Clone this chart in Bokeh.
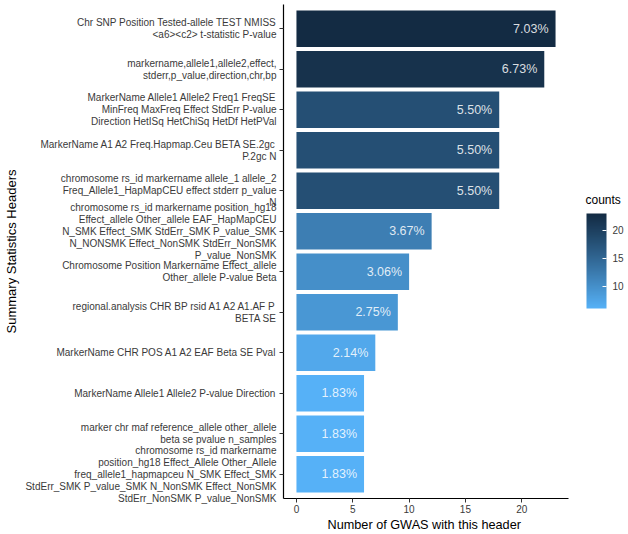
import numpy as np
from bokeh.plotting import figure
from bokeh.models import (FactorRange, Range1d, LinearColorMapper, ColorBar,
                          FixedTicker, ColumnDataSource, Label, Title)
from bokeh.transform import linear_cmap
from bokeh.core.properties import value
from bokeh.embed import file_html
from bokeh.resources import INLINE

# ---- data (top to bottom as in the chart) ----
headers = [
    "Chr SNP Position Tested-allele TEST NMISS\n<a6><c2> t-statistic P-value",
    "markername,allele1,allele2,effect,\nstderr,p_value,direction,chr,bp",
    "MarkerName Allele1 Allele2 Freq1 FreqSE\nMinFreq MaxFreq Effect StdErr P-value\nDirection HetISq HetChiSq HetDf HetPVal",
    "MarkerName A1 A2 Freq.Hapmap.Ceu BETA SE.2gc\nP.2gc N",
    "chromosome rs_id markername allele_1 allele_2\nFreq_Allele1_HapMapCEU effect stderr p_value\nN",
    "chromosome rs_id markername position_hg18\nEffect_allele Other_allele EAF_HapMapCEU\nN_SMK Effect_SMK StdErr_SMK P_value_SMK\nN_NONSMK Effect_NonSMK StdErr_NonSMK\nP_value_NonSMK",
    "Chromosome Position Markername Effect_allele\nOther_allele P-value Beta",
    "regional.analysis CHR BP rsid A1 A2 A1.AF P\nBETA SE",
    "MarkerName CHR POS A1 A2 EAF Beta SE Pval",
    "MarkerName Allele1 Allele2 P-value Direction",
    "marker chr maf reference_allele other_allele\nbeta se pvalue n_samples",
    "chromosome rs_id markername\nposition_hg18 Effect_Allele Other_Allele\nfreq_allele1_hapmapceu N_SMK Effect_SMK\nStdErr_SMK P_value_SMK N_NonSMK Effect_NonSMK\nStdErr_NonSMK P_value_NonSMK",
]
counts = [23, 22, 18, 18, 18, 12, 10, 9, 7, 6, 6, 6]
percents = [7.03, 6.73, 5.50, 5.50, 5.50, 3.67, 3.06, 2.75, 2.14, 1.83, 1.83, 1.83]
x_ticks = [0, 5, 10, 15, 20]
legend_ticks = [10, 15, 20]
low_color = "#56B1F7"
high_color = "#132B43"

# ---- Lab-space gradient like ggplot's scale_fill_gradient ----
def hex_to_lab(h):
    rgb = np.array([int(h[i:i + 2], 16) / 255 for i in (1, 3, 5)])
    lin = np.where(rgb <= 0.04045, rgb / 12.92, ((rgb + 0.055) / 1.055) ** 2.4)
    M = np.array([[0.4124, 0.3576, 0.1805], [0.2126, 0.7152, 0.0722], [0.0193, 0.1192, 0.9505]])
    xyz = M @ lin / np.array([0.95047, 1.0, 1.08883])
    f = np.where(xyz > 0.008856, np.cbrt(xyz), 7.787 * xyz + 16 / 116)
    return np.array([116 * f[1] - 16, 500 * (f[0] - f[1]), 200 * (f[1] - f[2])])

def lab_to_hex(lab):
    L, a, b = lab
    fy = (L + 16) / 116
    fx = fy + a / 500
    fz = fy - b / 200
    f = np.array([fx, fy, fz])
    xyz = np.where(f ** 3 > 0.008856, f ** 3, (f - 16 / 116) / 7.787) * np.array([0.95047, 1.0, 1.08883])
    Minv = np.array([[3.2406, -1.5372, -0.4986], [-0.9689, 1.8758, 0.0415], [0.0557, -0.2040, 1.0570]])
    lin = np.clip(Minv @ xyz, 0, 1)
    rgb = np.where(lin <= 0.0031308, 12.92 * lin, 1.055 * lin ** (1 / 2.4) - 0.055)
    rgb = np.clip(np.round(rgb * 255), 0, 255).astype(int)
    return "#%02x%02x%02x" % tuple(rgb)

lab_lo, lab_hi = hex_to_lab(low_color), hex_to_lab(high_color)
palette = [lab_to_hex(lab_lo + (lab_hi - lab_lo) * t) for t in np.linspace(0, 1, 256)]
cmin, cmax = min(counts), max(counts)

source = ColumnDataSource(dict(
    header=headers, counts=counts,
    label=["%.2f%%" % v for v in percents],
))

# layout: the plotted panel spans x in [-1.15, 24.15]; the frame is widened to the
# right edge so the colour legend (outside the panel) is drawn inside the canvas frame
x_lo, x_hi = -1.15, 24.15
panel_px = 285.0
frame_px = 628 - 283
x_end = x_lo + (x_hi - x_lo) * frame_px / panel_px

factors = list(reversed(headers))  # Bokeh puts first factor at bottom
p = figure(
    width=628, height=534,
    y_range=FactorRange(factors=factors, range_padding=0.1, range_padding_units="absolute"),
    x_range=Range1d(x_lo, x_end),
    output_backend="svg", toolbar_location=None,
    min_border_left=283, min_border_right=0, min_border_top=4, min_border_bottom=36,
)
p.outline_line_color = None
p.xgrid.grid_line_color = None
p.ygrid.grid_line_color = None

p.hbar(y="header", right="counts", left=0, height=0.9, source=source,
       fill_color=linear_cmap("counts", palette, cmin, cmax), line_color=None)

p.text(x="counts", y="header", text="label", source=source, x_offset=-7,
       text_align="right", text_baseline="middle", text_color="white", text_alpha=0.85,
       text_font_size="12.5px", text_font=value("Liberation Sans"))

for ax in (p.xaxis[0], p.yaxis[0]):
    ax.axis_line_color = "black"
    ax.axis_line_width = 1.2
    ax.major_tick_line_color = "#333333"
    ax.major_tick_in = 0
    ax.major_tick_out = 4
    ax.minor_tick_line_color = None
    ax.major_label_text_font = "Liberation Sans"
    ax.major_label_text_font_size = "10px"
    ax.major_label_text_color = "#3a3a3a"
    ax.axis_label_text_font = "Liberation Sans"
    ax.axis_label_text_font_size = "13px"
    ax.axis_label_text_font_style = "normal"
    ax.axis_label_text_color = "black"
    ax.major_label_standoff = 3

p.xaxis.ticker = FixedTicker(ticks=x_ticks)
p.xaxis.bounds = (x_lo, x_hi)
p.xaxis.major_label_standoff = 2
p.yaxis.axis_label = "Summary Statistics Headers"
p.yaxis.axis_label_standoff = 3
p.yaxis.major_label_text_line_height = 1.1

# x-axis title, centred under the plotted panel (not under the widened frame)
p.add_layout(Title(text="Number of GWAS with this header", align="left", offset=44,
                   standoff=1, text_font="Liberation Sans", text_font_size="12.7px",
                   text_font_style="normal", text_color="black"), "below")

mapper = LinearColorMapper(palette=palette, low=cmin, high=cmax)
cb = ColorBar(
    color_mapper=mapper, ticker=FixedTicker(ticks=legend_ticks),
    width=20, height=95, orientation="vertical",
    major_label_text_font="Liberation Sans", major_label_text_font_size="10px",
    major_label_text_color="#3a3a3a",
    major_tick_line_color="white", major_tick_in=4, major_tick_out=0,
    bar_line_color=None, border_line_color=None, background_fill_alpha=0,
    location=(303, 190), padding=0, margin=0, label_standoff=6,
)
p.add_layout(cb, "center")

p.add_layout(Label(x=302, y=299, x_units="screen", y_units="screen", text="counts",
                   text_font="Liberation Sans", text_font_size="12px",
                   text_color="black", text_baseline="middle", text_align="left"))

open("out.html", "w").write(file_html(p, INLINE))
